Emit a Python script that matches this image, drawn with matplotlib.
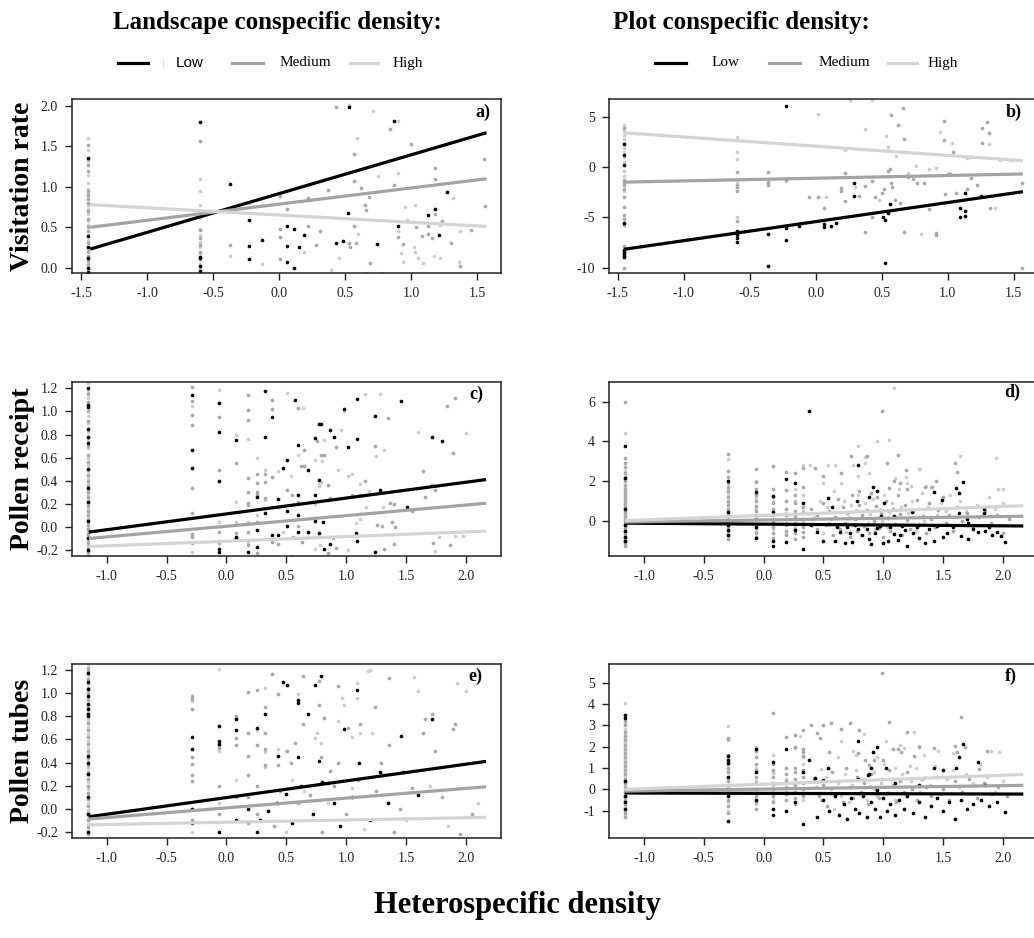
import matplotlib
matplotlib.use('Agg')
import matplotlib.pyplot as plt
from matplotlib.lines import Line2D

plt.rcParams['font.family'] = ['Liberation Serif', 'DejaVu Serif']
plt.rcParams['axes.unicode_minus'] = False

W, H = 1034, 938
C_LOW, C_MED, C_HIGH = '#000000', '#a3a3a3', '#d4d4d4'
P_LOW, P_MED, P_HIGH = '#000000', '#a8a8a8', '#cdcdcd'
group_names = ['Low', 'Medium', 'High']

# ---------------- Panel a: Visitation rate vs heterospecific density (landscape)
a_line_x = [-1.43, 1.57]
a_low_line = [0.23, 1.67]
a_med_line = [0.50, 1.10]
a_high_line = [0.78, 0.51]
a_low_cols = {-1.45: [0.39, 1.36, 0.25, 0.12, 0.0, -0.05], -0.6: [1.80, 0.13, 0.12, 0.02, -0.04]}
a_low_pts = [(-0.37, 1.03), (-0.23, 0.59), (-0.23, 0.27), (-0.23, 0.11), (-0.13, 0.34), (0.06, 0.52),
             (0.11, 0.48), (0.06, 0.27), (0.06, 0.07), (0.11, 0.0), (0.15, 0.25), (0.19, 0.41),
             (0.43, 0.30), (0.48, 0.33), (0.52, 0.68), (0.53, 1.99), (0.74, 0.29), (0.87, 1.82),
             (0.90, 0.51), (1.13, 0.65), (1.18, 0.73), (1.21, 0.40), (1.27, 0.94)]
a_med_cols = {-1.45: [1.52, 1.35, 1.27, 1.2, 0.95, 0.9, 0.85, 0.8, 0.7, 0.6, 0.5, 0.45, 0.3, 0.25, 0.2,
                      0.15, 0.1, 0.05, 0.0],
              -0.6: [1.57, 0.47, 0.37, 0.28, 0.2]}
a_med_pts = [(-0.37, 0.28), (0.01, 0.89), (0.01, 0.48), (0.01, 0.38), (0.01, 0.11), (0.06, 0.73),
             (0.22, 0.86), (0.22, 0.51), (0.28, 0.28), (0.31, 0.45), (0.37, 0.96), (0.43, 1.99),
             (0.53, 0.31), (0.54, 0.25), (0.57, 1.41), (0.57, 1.07), (0.57, 0.52), (0.58, 0.31),
             (0.62, 0.99), (0.65, 0.77), (0.66, 0.71), (0.68, 0.88), (0.69, 0.06), (0.84, 1.71),
             (0.87, 1.02), (0.90, 0.38), (0.94, 0.29), (1.00, 1.53), (1.04, 0.50), (1.08, 0.39),
             (1.13, 0.52), (1.13, 0.42), (1.16, 0.37), (1.18, 1.10), (1.18, 1.23), (1.18, 0.67),
             (1.23, 0.58), (1.30, 0.31), (1.37, 0.02), (1.45, 0.47), (1.55, 1.35), (1.56, 0.76)]
a_high_cols = {-1.45: [1.60, 1.45, 1.32, 1.15, 1.05, 0.97, 0.92, 0.86, 0.78, 0.72, 0.66, 0.58, 0.53,
                       0.40, 0.34, 0.22, 0.08, 0.03],
               -0.6: [1.1, 0.95, 0.78, 0.62, 0.48, 0.40, 0.32, 0.25, 0.18, 0.10, 0.05, 0.0]}
a_high_pts = [(-0.37, 0.14), (-0.13, 0.04), (-0.23, 0.80), (0.39, -0.03), (0.19, 0.20), (0.45, 0.12),
              (0.53, 2.01), (0.59, 1.60), (0.60, 0.42), (0.66, -0.06), (0.71, 1.94), (0.75, 1.13),
              (0.77, -0.06), (0.90, 1.82), (0.90, 1.17), (0.90, 0.45), (0.92, 0.18), (0.95, 0.75),
              (0.97, 0.59), (0.94, 0.07), (1.02, 0.26), (1.03, 0.20), (1.04, -0.09), (1.05, 0.12),
              (1.09, 0.06), (1.22, 0.12), (1.32, 0.86), (1.36, 0.07), (1.37, 0.45), (1.17, 0.14),
              (1.22, 0.53), (1.03, 0.78)]

# ---------------- Panel b: Visitation rate (plot conspecific density)
b_line_x = [-1.45, 1.57]
b_low_line = [-8.17, -2.45]
b_med_line = [-1.50, -0.69]
b_high_line = [3.40, 0.63]
b_low_cols = {-1.45: [2.25, 1.19, 0.2, -5.6, -8.2, -8.4, -8.6, -8.8, -8.95],
              -0.6: [-6.4, -6.6, -6.8, -7.1, -7.4]}
b_low_pts = [(-0.364, -6.66), (-0.364, -9.8), (-0.228, 6.06), (-0.228, -6.1), (-0.228, -7.3),
             (-0.13, -5.86), (0.065, -5.66), (0.065, -5.93), (0.116, -5.86), (0.156, -5.53),
             (0.288, -1.62), (0.288, -2.85), (0.508, -4.93), (0.524, -5.26), (0.528, -9.5),
             (0.546, -4.6), (0.566, -3.7), (1.096, -4.1), (1.096, -5.0), (1.134, -2.6),
             (1.134, -4.4), (1.134, -4.9), (1.134, -10.7), (1.25, -2.85)]
b_med_cols = {-1.45: [-1.3, -1.6, -1.8, -2.2, -3.0, -4.0, -4.8, -5.2, -5.8, -7.8, -8.0, -8.4, -10.0, 3.9],
              -0.6: [-0.45, -1.8, -2.0, -2.4, -5.4],
              -0.364: [-0.5, -1.5, -1.8]}
b_med_pts = [(-0.228, -1.3), (-0.05, -3.0), (0.015, -2.95), (0.065, -4.1), (0.19, -2.1), (0.19, -2.4),
             (0.225, -3.35), (0.225, -0.56), (0.33, -2.9), (0.375, -1.9), (0.375, -6.5), (0.43, -1.36),
             (0.43, -5.0), (0.45, -3.0), (0.50, -2.6), (0.52, -2.2), (0.55, -0.4), (0.56, -0.2),
             (0.57, -1.6), (0.58, -2.0), (0.60, -3.3), (0.64, -3.6), (0.67, -6.5), (0.70, -1.0),
             (0.74, -1.2), (0.77, -1.6), (0.82, -1.55), (0.86, -4.2), (0.91, -6.6), (0.91, -6.8),
             (0.98, -2.7), (1.02, -0.7), (1.06, -2.6), (1.15, -2.2), (1.18, -1.1), (1.22, -1.8),
             (1.32, -4.1), (1.56, -1.6), (1.56, -10.0), (0.57, 5.2), (0.62, 4.2), (0.66, 5.9),
             (0.67, 2.8), (0.97, 2.7), (0.97, 4.6), (1.04, 1.5), (1.26, 3.9), (1.26, 2.35),
             (1.31, 3.4), (1.30, 4.5)]
b_high_cols = {-1.45: [4.2, 3.6, 3.2, 2.8, 2.4, 1.9, 1.5, 1.0, 0.5, -0.4, -0.9, -2.4, -10.8],
               -0.6: [3.0, 1.5, 0.8, -1.5, -5.0]}
b_high_pts = [(0.015, 5.3), (0.225, 1.7), (0.26, 6.65), (0.375, 3.8), (0.43, 6.7), (0.53, 3.1),
              (0.55, 2.0), (0.61, 1.1), (0.76, 0.1), (0.86, -0.2), (0.91, -0.1), (0.94, 3.5),
              (1.03, 2.4), (1.00, -0.6), (1.18, 1.0), (1.31, 2.3), (1.40, 0.7), (1.48, 0.65),
              (1.36, -4.1), (0.08, -3.0), (0.48, -3.3), (-0.228, -1.4), (0.80, -6.7), (0.70, -0.6),
              (1.15, 0.9), (0.30, -2.0)]

# ---------------- Panel c: Pollen receipt (landscape)
c_line_x = [-1.15, 2.17]
c_low_line = [-0.045, 0.41]
c_med_line = [-0.10, 0.205]
c_high_line = [-0.17, -0.037]
c_low_cols = {-1.16: [1.2, 1.06, 1.04, 0.85, 0.78, 0.73, 0.5, 0.34, 0.22, 0.05, -0.1, -0.2],
              -0.29: [1.14, 0.67, 0.51], -0.06: [1.07, 0.82, 0.40, -0.19, -0.22],
              0.08: [0.75, -0.09, -0.10]}
c_low_pts = [(0.26, 0.26), (0.32, 1.18), (0.32, 0.78), (0.32, 0.12), (0.38, 0.95), (0.43, 0.24),
             (0.47, 0.51), (0.51, 0.58), (0.57, 1.10), (0.60, 0.71), (0.60, 0.275), (0.68, 0.49),
             (0.74, 0.77), (0.74, 0.28), (0.77, 0.41), (0.77, 0.89), (0.79, 0.89), (0.87, 0.84),
             (0.90, 0.78), (0.98, 1.02), (1.02, 0.69), (1.09, 1.11), (1.09, 0.76), (1.24, 0.96),
             (1.28, 0.32), (1.46, 1.09), (1.51, 0.17), (1.72, 0.78), (1.80, 0.74), (0.51, 0.14),
             (0.60, 0.10), (0.26, -0.03), (0.18, -0.22), (0.26, -0.17), (0.38, -0.07), (0.43, -0.07),
             (0.51, 0.01), (0.60, -0.04), (0.68, -0.04), (0.74, 0.05), (0.77, -0.05), (0.81, 0.04),
             (0.82, -0.19), (0.87, -0.15), (1.08, -0.05), (1.09, -0.12), (1.24, -0.22)]
c_med_cols = {-1.16: [1.15, 1.08, 1.0, 0.92, 0.85, 0.78, 0.7, 0.62, 0.56, 0.5, 0.45, 0.4, 0.35, 0.3,
                      0.26, 0.22, 0.18, 0.14, 0.1, 0.06, 0.02, -0.02, -0.06, -0.1, -0.14, -0.18,
                      -0.22, -0.25],
              -0.29: [1.21, 1.09, 0.97, 0.88, 0.51, 0.34, 0.12, -0.06, -0.09, -0.14],
              -0.06: [0.95, 0.49, -0.04, -0.14], 0.08: [0.55, -0.05],
              0.18: [1.14, 1.01, 0.93, 0.42, 0.30, 0.21, 0.19, -0.04, -0.16],
              0.26: [0.46, 0.38, 0.30, 0.28, 0.04, -0.23], 0.32: [0.46, 0.39, 0.25]}
c_med_pts = [(0.38, 1.10), (0.38, 1.02), (0.38, 0.43), (0.38, -0.13), (0.43, 0.17), (0.43, -0.15),
             (0.51, 0.32), (0.55, 0.28), (0.56, -0.09), (0.60, 1.03), (0.60, 0.22), (0.60, 0.01),
             (0.62, 0.53), (0.65, 0.53), (0.65, 0.67), (0.63, -0.13), (0.76, 0.74), (0.79, 0.62),
             (0.82, 0.62), (0.85, 0.36), (0.87, 0.25), (0.85, -0.23), (0.89, -0.10), (0.92, 0.69),
             (0.92, -0.18), (1.05, 0.28), (1.12, 0.28), (1.16, 0.40), (1.24, 0.70), (1.35, 0.94),
             (1.37, 0.21), (1.40, 0.20), (1.26, 0.02), (1.30, 0.01), (1.32, -0.19), (1.38, 0.04),
             (1.40, -0.15), (1.41, 0.0), (1.55, 0.14), (1.64, 0.48), (1.66, 0.26), (1.72, 0.36),
             (1.74, 0.32), (1.73, -0.14), (1.84, 1.05), (1.87, -0.16), (1.89, 0.64), (1.91, 1.12)]
c_high_cols = {-1.16: [1.25, 1.18, 1.12, 1.04, 0.96, 0.9, 0.82, 0.75, 0.68, 0.6, 0.54, 0.48, 0.42,
                       0.37, 0.32, 0.28, 0.24, 0.2, 0.16, 0.12, 0.08, 0.04, 0.0, -0.04, -0.08,
                       -0.12, -0.16, -0.2, -0.24],
               -0.29: [1.05, -0.22], -0.06: [1.19, 0.04], 0.08: [0.80, 0.22, 0.04],
               0.18: [0.76, 0.04, -0.13], 0.26: [0.60, 0.10], 0.32: [0.49, 0.23]}
c_high_pts = [(0.43, 0.48), (0.47, -0.04), (0.51, 1.16), (0.54, 0.44), (0.55, -0.25), (0.60, 0.62),
              (0.64, 1.03), (0.74, 0.58), (0.74, 0.20), (0.74, -0.19), (0.77, 0.37), (0.77, 0.35),
              (0.79, 0.39), (0.78, -0.16), (0.80, 0.57), (0.82, 0.75), (0.85, 0.23), (0.93, 0.49),
              (0.96, 0.84), (0.98, 1.00), (1.02, 0.44), (1.02, -0.20), (1.05, 0.46), (1.08, 0.03),
              (1.12, 0.37), (1.12, 0.07), (1.16, 1.15), (1.17, 0.17), (1.19, 0.31), (1.25, 0.61),
              (1.28, 1.15), (1.31, 0.17), (1.32, 0.67), (1.60, 0.82), (1.74, -0.21), (1.78, -0.09),
              (1.91, -0.08), (1.98, -0.08), (2.0, 0.81)]

# ---------------- Panel d: Pollen receipt (plot)
d_line_x = [-1.16, 2.17]
d_low_line = [-0.11, -0.25]
d_med_line = [-0.05, 0.24]
d_high_line = [0.02, 0.77]
d_low_cols = {-1.16: [3.77, 2.15, 0.6, -0.2, -0.5, -0.8, -1.0], -0.3: [2.01, 0.44, -0.2, -0.45, -0.7],
              -0.06: [1.44, -0.3, -0.83], 0.08: [1.28, 0.47, -1.0, -1.25], 0.185: [2.11, -1.08],
              0.26: [1.90, -0.45], 0.33: [0.89, -1.41]}
d_low_pts = [(0.38, 5.55), (0.54, 1.14), (0.57, 0.72), (0.79, 2.82), (0.78, 1.02), (0.88, 1.19),
             (0.91, 1.69), (0.95, 1.53), (1.01, 0.89), (1.09, 0.27), (1.24, 0.47), (1.42, 1.48),
             (1.49, 1.06), (1.61, 1.64), (1.63, 1.43), (1.67, 1.98), (1.71, -0.08), (1.84, 0.62),
             (0.5, -1.03), (0.6, -1.0), (0.68, -1.12), (0.74, -1.07), (0.79, -0.41), (0.9, -1.17),
             (0.93, -0.62), (1.0, -1.09), (1.04, -1.0), (1.09, -0.67), (1.14, -0.7), (1.2, -1.25),
             (1.35, -1.12), (1.42, -0.99), (1.5, -0.82), (1.71, -0.91), (1.79, -0.57), (1.85, -0.49),
             (1.91, -0.7), (1.98, -0.75), (2.02, -1.07), (0.97, -0.24), (0.61, -0.32), (1.18, -0.45),
             (1.53, -0.62), (0.98, 0.27), (1.63, 0.39), (1.7, 0.1), (1.84, 0.39), (0.55, -0.15),
             (0.64, -0.55), (0.7, -0.3), (0.72, -0.6), (0.76, -0.2), (0.82, -0.7), (0.86, -0.4),
             (0.88, -0.9), (0.95, -0.35), (1.06, -0.3), (1.12, -0.95), (1.16, -0.25), (1.25, -0.6),
             (1.28, -0.3), (1.3, -0.85), (1.38, -0.4), (1.45, -0.25), (1.58, -0.3), (1.65, -0.75),
             (1.75, -0.4), (1.88, -0.3), (1.95, -0.55), (0.45, -0.55), (0.4, -0.2)]
d_med_cols = {-1.16: [6.0, 3.19, 2.93, 2.73, 2.4, 2.2, 2.0, 1.8, 1.6, 1.45, 1.3, 1.15, 1.0, 0.85, 0.7,
                      0.55, 0.4, 0.25, 0.1, -0.05, -0.2, -0.35, -0.5, -0.65, -0.8, -0.95, -1.1, -1.25],
              -0.3: [3.37, 2.5, 2.2, 1.9, 1.7, 1.5, 1.2, 1.0, 0.8, 0.6, 0.3, 0.1, -0.1, -0.3, -0.5,
                     -0.7, -0.9],
              -0.06: [2.62, 1.98, 1.6, 1.3, 1.0, 0.75, 0.5, 0.3, 0.1, -0.15, -0.35, -0.6, -0.8],
              0.08: [2.79, 1.6, 1.2, 0.9, 0.6, 0.3, 0.0, -0.3, -0.6, -0.85],
              0.185: [2.48, 1.56, 1.0, 0.6, 0.3, -0.2, -0.5, -0.7],
              0.26: [2.43, 1.3, 0.9, 0.5, 0.25, -0.1, -0.4, -0.6, -0.9],
              0.33: [2.68, 1.7, 0.7, 0.4, 0.1, -0.3, -0.55, -0.8]}
d_med_pts = [(0.43, 2.65), (0.5, 2.26), (0.65, 2.4), (0.73, 3.27), (0.86, 3.27), (0.99, 5.53),
             (1.03, 2.93), (1.12, 3.32), (1.09, 2.01), (1.14, 1.93), (1.19, 2.57), (1.41, 1.73),
             (1.44, 1.99), (1.6, 2.93), (1.62, 2.48), (0.4, 0.6), (0.45, 0.3), (0.45, -0.4),
             (0.5, 0.9), (0.52, -0.2), (0.55, 0.5), (0.58, -0.7), (0.6, 0.2), (0.62, 1.1),
             (0.64, -0.4), (0.66, 0.7), (0.68, -0.1), (0.7, 0.4), (0.72, -0.8), (0.74, 1.3),
             (0.76, 0.1), (0.78, -0.5), (0.8, 0.8), (0.82, 0.3), (0.84, -0.25), (0.86, 0.55),
             (0.88, -0.6), (0.9, 1.4), (0.92, 0.0), (0.94, 0.75), (0.96, -0.35), (0.98, 0.4),
             (1.0, -0.8), (1.02, 1.0), (1.04, 0.15), (1.06, -0.5), (1.08, 0.6), (1.1, -0.15),
             (1.12, 1.3), (1.14, 0.35), (1.16, -0.7), (1.18, 0.8), (1.2, 0.05), (1.22, -0.4),
             (1.25, 0.5), (1.28, 1.05), (1.3, -0.2), (1.33, 0.25), (1.36, -0.6), (1.38, 0.9),
             (1.4, 0.1), (1.43, -0.3), (1.46, 0.55), (1.5, 1.2), (1.52, -0.1), (1.55, 0.3),
             (1.58, -0.5), (1.62, 0.7), (1.66, 0.0), (1.7, 0.4), (1.75, -0.3), (1.8, 0.2),
             (1.85, 0.5), (1.9, -0.1), (1.95, 0.3), (2.0, -0.6), (2.05, 0.1), (1.35, 1.7),
             (1.2, 1.6), (1.05, 1.65), (0.95, 1.2), (0.8, 1.5)]
d_high_cols = {-1.16: [4.45, 2.5, 2.1, 1.7, 1.35, 1.1, 0.9, 0.65, 0.45, 0.2, 0.0, -0.15, -0.3, -0.55,
                       -0.75, -1.0, -1.2],
               -0.3: [3.1, 1.65, 1.35, 0.95, 0.55, 0.2, -0.05, -0.35, -0.6],
               -0.06: [2.0, 1.15, 0.6, 0.2, -0.2, -0.5], 0.08: [2.75, 1.0, 0.5, 0.1, -0.4],
               0.185: [1.0, 0.4, -0.1, -0.6], 0.26: [1.6, 1.0, 0.2, -0.3], 0.33: [2.8, 1.3, 0.5, 0.0]}
d_high_pts = [(0.42, 0.2), (0.47, 1.0), (0.5, -0.6), (0.53, 0.7), (0.56, 0.1), (0.59, 1.5),
              (0.61, -0.3), (0.63, 0.45), (0.67, 1.0), (0.69, -0.55), (0.71, 0.2), (0.73, 0.8),
              (0.75, -0.2), (0.77, 0.55), (0.79, 1.3), (0.81, -0.7), (0.83, 0.15), (0.85, 0.9),
              (0.87, -0.1), (0.89, 0.35), (0.91, 1.1), (0.93, -0.45), (0.97, 0.6), (0.99, 0.0),
              (1.01, 1.3), (1.03, -0.3), (1.05, 0.45), (1.07, 0.9), (1.09, -0.6), (1.11, 0.2),
              (1.13, 1.6), (1.15, 0.7), (1.17, -0.2), (1.21, 0.4), (1.24, 1.0), (1.27, -0.5),
              (1.29, 0.6), (1.32, 1.4), (1.34, 0.0), (1.37, 0.7), (1.4, 1.7), (1.42, -0.3),
              (1.45, 0.3), (1.48, 0.9), (1.52, 0.5), (1.56, 1.3), (1.6, 0.2), (1.64, 1.0),
              (1.69, 0.5), (1.73, -0.2), (1.78, 0.8), (1.83, 0.3), (1.88, 1.2), (1.93, 0.6),
              (2.0, 0.9), (1.96, 1.6), (1.1, 2.15), (1.3, 2.6), (0.75, 2.8), (0.6, 2.8),
              (0.85, 3.2), (0.79, 3.77), (0.79, 2.26), (0.88, 2.4), (1.05, 4.07), (1.09, 6.67),
              (1.19, 2.23), (1.2, 1.93), (1.31, 2.6), (1.23, 1.76), (1.36, 1.78), (1.64, 3.27),
              (1.94, 3.15), (2.0, 1.61), (0.54, 2.82), (0.5, 1.9), (0.385, 2.82), (0.65, 1.93),
              (0.95, 4.0), (0.85, 2.9)]

# ---------------- Panel e: Pollen tubes (landscape)
e_line_x = [-1.15, 2.17]
e_low_line = [-0.07, 0.41]
e_med_line = [-0.09, 0.19]
e_high_line = [-0.14, -0.075]
e_low_cols = {-1.16: [1.18, 1.10, 1.04, 0.98, 0.91, 0.86, 0.82, 0.80, 0.46, 0.40, 0.30, 0.10, -0.05, -0.2],
              -0.29: [0.62, 0.52, 0.0, -0.12], -0.06: [0.72, 0.59, 0.56, -0.2], 0.08: [0.78, 0.68, -0.1]}
e_low_pts = [(0.26, 0.70), (0.32, 0.82), (0.43, 0.46), (0.47, 1.10), (0.51, 1.07), (0.60, 0.94),
             (0.60, 0.92), (0.60, 0.45), (0.68, 0.82), (0.74, 1.07), (0.79, 1.15), (0.77, 0.41),
             (0.98, 0.69), (1.09, 1.03), (1.11, 0.40), (1.46, 0.63), (1.72, 0.78), (1.28, 0.32),
             (1.48, 0.32), (0.85, 0.22), (0.80, 0.23), (0.62, 0.20), (0.50, 0.13), (0.42, 0.05),
             (0.35, -0.02), (0.28, -0.1), (0.55, -0.12), (0.72, -0.05), (0.90, 0.05), (0.95, -0.15),
             (1.05, 0.10), (1.20, -0.10), (1.35, 0.05), (0.18, 0.0), (0.26, -0.2), (1.60, 0.12)]
e_med_cols = {-1.16: [1.22, 1.19, 1.12, 1.05, 1.0, 0.94, 0.88, 0.8, 0.74, 0.68, 0.62, 0.56, 0.5, 0.44,
                      0.38, 0.32, 0.26, 0.2, 0.14, 0.08, 0.02, -0.04, -0.1, -0.16, -0.22],
              -0.29: [0.98, 0.95, 0.86, 0.45, 0.39, 0.29, 0.24, -0.1],
              -0.06: [0.55, 0.53, 0.2, -0.05], 0.08: [0.80, 0.61, 0.55, 0.1],
              0.18: [1.01, 0.66, 0.46, 0.29, 0.1, -0.12], 0.26: [1.03, 0.55, 0.2, -0.05]}
e_med_pts = [(0.32, 0.88), (0.32, 0.66), (0.32, 0.52), (0.32, 0.38), (0.38, 1.17), (0.43, 0.99),
             (0.43, 0.38), (0.51, 0.50), (0.54, 0.40), (0.57, 0.57), (0.64, 1.15), (0.64, 0.73),
             (0.77, 1.11), (0.77, 0.90), (0.79, 0.45), (0.82, 0.79), (0.87, 0.33), (0.93, 1.06),
             (0.93, 0.40), (1.02, 0.70), (1.12, 0.73), (1.24, 0.88), (1.29, 0.40), (1.36, 1.13),
             (1.36, 0.55), (1.64, 0.66), (1.66, 0.78), (1.72, 0.82), (1.74, 0.50), (1.89, 0.69),
             (1.91, 0.73), (0.45, 0.15), (0.6, 0.05), (0.7, 0.12), (0.9, 0.2), (1.0, -0.05),
             (1.1, 0.25), (1.25, 0.15), (1.45, 0.0), (1.55, 0.18), (1.8, 0.1), (2.05, -0.05),
             (0.4, -0.15), (0.8, -0.2), (1.4, -0.2), (1.95, -0.22)]
e_high_cols = {-1.16: [1.25, 1.16, 1.08, 1.02, 0.96, 0.9, 0.84, 0.77, 0.71, 0.65, 0.59, 0.53, 0.47,
                       0.41, 0.35, 0.29, 0.23, 0.17, 0.11, 0.05, -0.01, -0.07, -0.13, -0.19, -0.25],
               -0.29: [0.93, 0.0, -0.2], -0.06: [1.21, 0.50, 0.05], 0.08: [0.79, 0.25]}
e_high_pts = [(0.26, 0.68), (0.32, 1.05), (0.32, 0.49), (0.32, 0.36), (0.43, 0.52), (0.50, 0.50),
              (0.60, 0.99), (0.74, 0.61), (0.76, 0.66), (0.82, 0.79), (0.79, 0.57), (0.93, 0.76),
              (0.97, 0.96), (0.98, 0.90), (1.05, 0.62), (1.09, 1.09), (1.09, 0.96), (1.12, 0.66),
              (1.18, 1.19), (1.20, 1.20), (1.22, 0.66), (1.57, 1.14), (1.60, 1.02), (1.93, 1.09),
              (2.0, 1.02), (0.55, 0.25), (0.65, 0.15), (0.85, 0.05), (1.05, 0.18), (1.3, 0.3),
              (1.5, -0.1), (1.7, 0.2), (1.85, -0.15), (2.1, 0.05), (0.5, -0.2), (1.15, -0.18)]

# ---------------- Panel f: Pollen tubes (plot)
f_line_x = [-1.16, 2.17]
f_low_line = [-0.17, -0.22]
f_med_line = [-0.08, 0.19]
f_high_line = [0.0, 0.70]
f_low_cols = {-1.16: [3.48, 3.36, 0.4, -0.3, -0.6, -0.9], -0.3: [1.55, 1.37, 1.25, 0.6, -0.3, -1.5],
              -0.06: [1.9, 0.82, -0.5], 0.08: [1.29, -0.9, -1.2], 0.185: [1.89, -1.0],
              0.26: [-0.6], 0.33: [0.82, -1.6]}
f_low_pts = [(0.38, 1.37), (0.43, 0.54), (0.5, 0.46), (0.54, 0.98), (0.79, 2.28), (0.79, 0.48),
             (0.87, 0.67), (0.88, 0.71), (0.9, 0.98), (0.91, 1.73), (0.95, 2.0), (1.02, 0.98),
             (1.42, 1.02), (1.5, 0.9), (1.61, 0.98), (1.63, 1.53), (1.67, 2.12), (1.79, 1.29),
             (0.45, -1.3), (0.5, -0.5), (0.55, -1.0), (0.6, -0.3), (0.63, -1.2), (0.67, -0.7),
             (0.7, -1.4), (0.73, -0.4), (0.76, -0.9), (0.8, -1.1), (0.83, -0.3), (0.86, -1.3),
             (0.9, -0.6), (0.93, -0.9), (0.97, -1.3), (1.0, -0.4), (1.03, -1.0), (1.06, -0.7),
             (1.1, -1.2), (1.13, -0.5), (1.17, -0.9), (1.2, -0.3), (1.25, -1.1), (1.3, -0.6),
             (1.35, -1.3), (1.4, -0.8), (1.45, -0.4), (1.5, -1.0), (1.55, -0.6), (1.6, -1.4),
             (1.65, -0.5), (1.7, -0.9), (1.75, -0.7), (1.82, -0.5), (1.88, -0.8), (1.95, -0.6),
             (2.02, -1.05), (1.1, 0.3), (1.3, 0.2), (1.85, 0.2), (0.95, -0.05)]
f_med_cols = {-1.16: [3.5, 3.2, 3.0, 2.7, 2.5, 2.3, 2.1, 1.9, 1.7, 1.5, 1.3, 1.1, 0.9, 0.7, 0.5, 0.3,
                      0.1, -0.1, -0.3, -0.5, -0.7, -0.9, -1.1, -1.3],
              -0.3: [2.4, 2.35, 1.6, 1.4, 1.2, 1.0, 0.8, 0.6, 0.4, 0.2, 0.0, -0.2, -0.5, -0.8, -1.1],
              -0.06: [1.8, 1.5, 1.2, 0.9, 0.6, 0.3, 0.0, -0.3, -0.6, -0.9],
              0.08: [3.6, 1.2, 0.9, 0.6, 0.3, 0.0, -0.3, -0.6],
              0.185: [2.45, 1.0, 0.7, 0.4, 0.1, -0.2, -0.5],
              0.26: [2.55, 2.0, 1.0, 0.8, 0.5, 0.2, -0.1, -0.4, -0.7],
              0.33: [2.8, 1.9, 1.75, 1.55, 0.9, 0.6, 0.3, 0.0, -0.3]}
f_med_pts = [(0.45, 2.65), (0.40, 3.0), (0.50, 3.0), (0.47, 2.4), (0.55, 1.75), (0.56, 3.1),
             (0.65, 2.85), (0.72, 3.1), (0.80, 2.8), (0.79, 1.7), (0.85, 1.4), (0.88, 1.15),
             (0.92, 1.4), (0.99, 5.45), (1.05, 3.15), (1.00, 1.4), (1.08, 1.9), (1.12, 1.9),
             (1.15, 1.75), (1.20, 2.7), (1.26, 1.55), (1.30, 2.0), (1.42, 1.95), (1.60, 2.05),
             (1.62, 1.75), (1.65, 3.4), (1.68, 2.0), (1.80, 0.95), (1.87, 1.8),
             (0.42, 0.5), (0.46, -0.3), (0.5, 0.2), (0.53, -0.8), (0.57, 0.8), (0.6, -0.2),
             (0.63, 0.4), (0.66, -0.6), (0.69, 1.0), (0.72, 0.1), (0.75, -0.4), (0.78, 0.6),
             (0.81, -0.1), (0.84, 0.3), (0.87, -0.7), (0.9, 0.7), (0.93, 0.0), (0.96, -0.4),
             (0.99, 0.5), (1.02, -0.2), (1.05, 0.9), (1.08, 0.2), (1.11, -0.6), (1.14, 0.4),
             (1.17, -0.1), (1.2, 0.8), (1.24, 0.0), (1.28, -0.5), (1.32, 0.5), (1.36, 0.1),
             (1.4, -0.3), (1.45, 0.6), (1.5, 0.0), (1.55, -0.5), (1.6, 0.4), (1.66, -0.1),
             (1.72, 0.5), (1.78, -0.4), (1.84, 0.3), (1.9, -0.2), (1.96, 0.1), (2.03, -0.3)]
f_high_cols = {-1.16: [4.05, 3.1, 2.85, 2.6, 2.4, 2.2, 2.0, 1.8, 1.6, 1.4, 1.2, 1.0, 0.8, 0.6, 0.4, 0.2,
                       0.0, -0.2, -0.4, -0.6, -0.8, -1.0, -1.2],
               -0.3: [2.95, 2.3, 1.3, 0.9, 0.5, 0.1, -0.3, -0.6, -1.0],
               -0.06: [2.0, 1.0, 0.4, -0.2, -0.7], 0.08: [1.6, 0.75, 0.2, -0.5],
               0.185: [0.5, -0.1], 0.26: [1.96, 0.3], 0.33: [1.5, 1.2, 0.8, -0.5]}
f_high_pts = [(0.30, 2.5), (0.48, 0.95), (0.62, 1.5), (0.65, 2.25), (0.75, 1.8), (0.77, 1.6),
              (0.84, 2.6), (0.95, 1.5), (1.02, 2.25), (1.14, 2.1), (1.17, 1.95), (1.26, 2.7),
              (1.30, 2.05), (1.34, 1.6), (1.46, 1.8), (1.58, 1.7), (1.90, 1.8), (1.97, 1.75),
              (1.22, 1.1), (1.10, 1.0), (0.90, 1.0),
              (0.44, 0.1), (0.48, -0.5), (0.52, 0.6), (0.56, 0.0), (0.59, -0.9), (0.62, 0.3),
              (0.65, -0.3), (0.68, 0.7), (0.71, -0.6), (0.74, 0.2), (0.77, 0.9), (0.8, -0.2),
              (0.83, 0.5), (0.86, -0.5), (0.89, 0.15), (0.92, 0.8), (0.95, -0.3), (0.98, 0.3),
              (1.01, 1.2), (1.04, -0.1), (1.07, 0.5), (1.1, -0.5), (1.13, 0.1), (1.16, 0.7),
              (1.19, -0.3), (1.23, 0.4), (1.27, 1.0), (1.31, -0.1), (1.35, 0.6), (1.39, 0.2),
              (1.43, 1.1), (1.48, -0.2), (1.53, 0.5), (1.58, 0.9), (1.63, 0.1), (1.69, 0.7),
              (1.75, 0.3), (1.81, 1.2), (1.87, 0.6), (1.93, -0.1), (2.0, 0.4)]


def expand(cols, pts):
    xs, ys = [], []
    for x, yl in cols.items():
        xs += [x] * len(yl)
        ys += list(yl)
    for x, y in pts:
        xs.append(x)
        ys.append(y)
    return xs, ys


def rect(l, t, r, b):
    return [l / W, 1 - b / H, (r - l) / W, (b - t) / H]


fig = plt.figure(figsize=(W / 100, H / 100), dpi=100)

panels = [
    dict(rect=rect(72, 99, 501, 273), xlim=(-1.568, 1.68), ylim=(-0.066, 2.087),
         xt=[-1.5, -1.0, -0.5, 0.0, 0.5, 1.0, 1.5], yt=[0.0, 0.5, 1.0, 1.5, 2.0], yfmt='{:.1f}',
         lab='a)', labxy=(0.958, 0.925),
         data=[(a_high_cols, a_high_pts), (a_med_cols, a_med_pts), (a_low_cols, a_low_pts)],
         lx=a_line_x, lines=[a_low_line, a_med_line, a_high_line]),
    dict(rect=rect(609, 99, 1036, 273), xlim=(-1.566, 1.669), ylim=(-10.53, 6.76),
         xt=[-1.5, -1.0, -0.5, 0.0, 0.5, 1.0, 1.5], yt=[-10, -5, 0, 5], yfmt='{:.0f}',
         lab='b)', labxy=(0.948, 0.925),
         data=[(b_high_cols, b_high_pts), (b_med_cols, b_med_pts), (b_low_cols, b_low_pts)],
         lx=b_line_x, lines=[b_low_line, b_med_line, b_high_line]),
    dict(rect=rect(72, 382, 501, 556), xlim=(-1.29, 2.295), ylim=(-0.252, 1.255),
         xt=[-1.0, -0.5, 0.0, 0.5, 1.0, 1.5, 2.0], yt=[-0.2, 0.0, 0.2, 0.4, 0.6, 0.8, 1.0, 1.2],
         yfmt='{:.1f}', lab='c)', labxy=(0.942, 0.931),
         data=[(c_high_cols, c_high_pts), (c_med_cols, c_med_pts), (c_low_cols, c_low_pts)],
         lx=c_line_x, lines=[c_low_line, c_med_line, c_high_line]),
    dict(rect=rect(609, 382, 1036, 556), xlim=(-1.292, 2.276), ylim=(-1.76, 6.99),
         xt=[-1.0, -0.5, 0.0, 0.5, 1.0, 1.5, 2.0], yt=[0, 2, 4, 6], yfmt='{:.0f}',
         lab='d)', labxy=(0.945, 0.94),
         data=[(d_high_cols, d_high_pts), (d_med_cols, d_med_pts), (d_low_cols, d_low_pts)],
         lx=d_line_x, lines=[d_low_line, d_med_line, d_high_line]),
    dict(rect=rect(72, 664, 501, 838), xlim=(-1.29, 2.295), ylim=(-0.254, 1.254),
         xt=[-1.0, -0.5, 0.0, 0.5, 1.0, 1.5, 2.0], yt=[-0.2, 0.0, 0.2, 0.4, 0.6, 0.8, 1.0, 1.2],
         yfmt='{:.1f}', lab='e)', labxy=(0.94, 0.927),
         data=[(e_high_cols, e_high_pts), (e_med_cols, e_med_pts), (e_low_cols, e_low_pts)],
         lx=e_line_x, lines=[e_low_line, e_med_line, e_high_line]),
    dict(rect=rect(609, 664, 1036, 838), xlim=(-1.292, 2.276), ylim=(-2.28, 5.88),
         xt=[-1.0, -0.5, 0.0, 0.5, 1.0, 1.5, 2.0], yt=[-1, 0, 1, 2, 3, 4, 5], yfmt='{:.0f}',
         lab='f)', labxy=(0.941, 0.927),
         data=[(f_high_cols, f_high_pts), (f_med_cols, f_med_pts), (f_low_cols, f_low_pts)],
         lx=f_line_x, lines=[f_low_line, f_med_line, f_high_line]),
]

pt_colors = [P_HIGH, P_MED, P_LOW]
line_colors = [C_LOW, C_MED, C_HIGH]

for p in panels:
    ax = fig.add_axes(p['rect'])
    for (cols, pts), col in zip(p['data'], pt_colors):
        xs, ys = expand(cols, pts)
        ax.scatter(xs, ys, s=7, color=col, linewidths=0, zorder=2)
    for yl, col in zip(p['lines'], line_colors):
        ax.plot(p['lx'], yl, color=col, lw=2.3, solid_capstyle='butt', zorder=3)
    ax.set_xlim(*p['xlim'])
    ax.set_ylim(*p['ylim'])
    ax.set_xticks(p['xt'])
    ax.set_xticklabels(['{:.1f}'.format(v) for v in p['xt']])
    ax.set_yticks(p['yt'])
    ax.set_yticklabels([p['yfmt'].format(v) for v in p['yt']])
    ax.tick_params(direction='out', length=5, width=1, labelsize=10, pad=5, colors='#222222')
    for s in ax.spines.values():
        s.set_linewidth(1.1)
        s.set_color('#222222')
    ax.text(p['labxy'][0], p['labxy'][1], p['lab'], transform=ax.transAxes, ha='center',
            va='center', fontsize=13, fontweight='bold')

# Titles
fig.text(277 / W, 1 - 22 / H, 'Landscape conspecific density:', ha='center', va='center',
         fontsize=18, fontweight='bold')
fig.text(741 / W, 1 - 22 / H, 'Plot conspecific density:', ha='center', va='center',
         fontsize=18, fontweight='bold')

# Legends
def leg_line(x0, x1, y, col):
    fig.add_artist(Line2D([x0 / W, x1 / W], [1 - y / H, 1 - y / H], transform=fig.transFigure,
                          color=col, lw=2.3))

ly = 63
leg_line(118, 148, ly, C_LOW)
fig.add_artist(Line2D([163 / W, 163 / W], [1 - 60 / H, 1 - 66 / H], transform=fig.transFigure,
                      color='#d8d8d8', lw=0.8))
fig.text(176 / W, 1 - ly / H, group_names[0], ha='left', va='center', fontsize=11,
         family=['Liberation Sans', 'DejaVu Sans'])
leg_line(232, 263, ly, C_MED)
fig.text(280 / W, 1 - ly / H, group_names[1], ha='left', va='center', fontsize=11)
leg_line(350, 378, ly, C_HIGH)
fig.text(393 / W, 1 - ly / H, group_names[2], ha='left', va='center', fontsize=11)

leg_line(655, 686, ly, C_LOW)
fig.text(712 / W, 1 - ly / H, group_names[0], ha='left', va='center', fontsize=11)
leg_line(769, 800, ly, C_MED)
fig.text(819 / W, 1 - ly / H, group_names[1], ha='left', va='center', fontsize=11)
leg_line(888, 917, ly, C_HIGH)
fig.text(928 / W, 1 - ly / H, group_names[2], ha='left', va='center', fontsize=11)

# Y labels
fig.text(23 / W, 1 - 186 / H, 'Visitation rate', rotation=90, ha='center', va='center',
         fontsize=20, fontweight='bold')
fig.text(23 / W, 1 - 469 / H, 'Pollen receipt', rotation=90, ha='center', va='center',
         fontsize=20, fontweight='bold')
fig.text(23 / W, 1 - 751 / H, 'Pollen tubes', rotation=90, ha='center', va='center',
         fontsize=20, fontweight='bold')

# X label
fig.text(517 / W, 1 - 905 / H, 'Heterospecific density', ha='center', va='center',
         fontsize=22, fontweight='bold')

fig.savefig('out.png', dpi=100)
